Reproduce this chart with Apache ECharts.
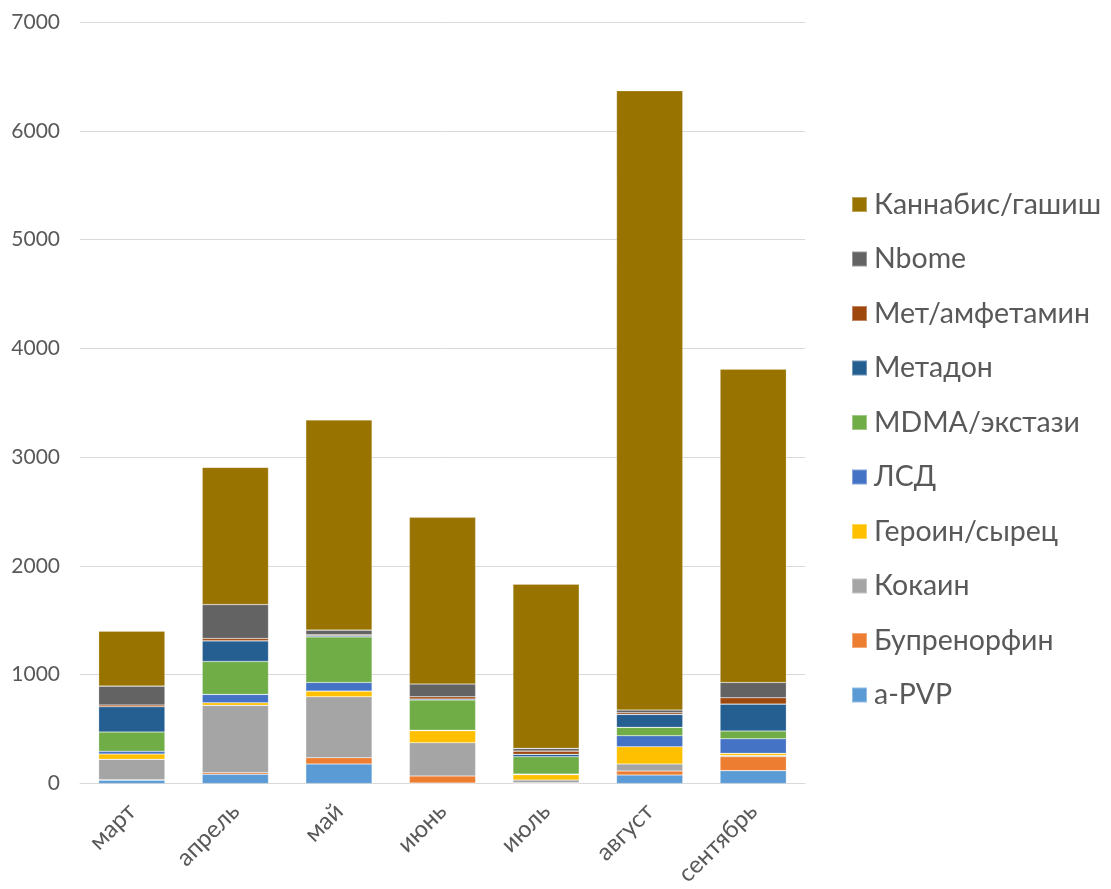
<!DOCTYPE html>
<html>
<head>
<meta charset="utf-8">
<script src="https://cdn.jsdelivr.net/npm/echarts@6/dist/echarts.min.js"></script>
<style>
html,body{margin:0;padding:0;background:#fff;}
#chart{width:1111px;height:889px;}
</style>
</head>
<body>
<div id="chart"></div>
<script>
const categories = ['март','апрель','май','июнь','июль','август','сентябрь'];
const yTicks = [0,1000,2000,3000,4000,5000,6000,7000];

const aPVP      = [30, 85, 179, 3, 3, 78, 118];
const buprenorf = [5, 14, 58, 66, 3, 37, 128];
const kokain    = [187, 619, 560, 306, 26, 64, 10];
const geroin    = [49, 24, 52, 110, 49, 159, 21];
const lsd       = [25, 77, 80, 5, 5, 101, 134];
const mdma      = [177, 303, 419, 277, 160, 77, 71];
const metadon   = [232, 189, 12, 10, 22, 119, 248];
const metamf    = [16, 22, 8, 20, 30, 15, 58];
const nbome     = [174, 312, 42, 117, 25, 25, 141];
const cannabis  = [505, 1261, 1931, 1533, 1509, 5693, 2880];

const seriesDefs = [
  ['a-PVP', aPVP, '#5B9BD5'],
  ['Бупренорфин', buprenorf, '#ED7D31'],
  ['Кокаин', kokain, '#A5A5A5'],
  ['Героин/сырец', geroin, '#FFC000'],
  ['ЛСД', lsd, '#4472C4'],
  ['MDMA/экстази', mdma, '#70AD47'],
  ['Метадон', metadon, '#255E91'],
  ['Мет/амфетамин', metamf, '#9E480E'],
  ['Nbome', nbome, '#636363'],
  ['Каннабис/гашиш', cannabis, '#997300']
];

const chart = echarts.init(document.getElementById('chart'));
const font = 'Lato';
chart.setOption({
  animation: false,
  backgroundColor: '#ffffff',
  grid: {left: 80, right: 306, top: 22, bottom: 105.5, containLabel: false},
  legend: {
    orient: 'vertical',
    left: 846,
    top: 185,
    icon: 'rect',
    itemWidth: 15,
    itemHeight: 15,
    itemGap: 25.5,
    data: seriesDefs.map(s => s[0]).reverse(),
    textStyle: {fontFamily: font, fontSize: 28.5, lineHeight: 28, color: '#595959', padding: [0,0,0,2]}
  },
  xAxis: {
    type: 'category',
    data: categories,
    axisLine: {lineStyle: {color: '#d9d9d9', width: 1}},
    axisTick: {show: false},
    axisLabel: {rotate: 45, fontFamily: font, fontSize: 24, color: '#595959', margin: 24, interval: 0}
  },
  yAxis: {
    type: 'value',
    min: yTicks[0],
    max: yTicks[yTicks.length-1],
    interval: 1000,
    axisLine: {show: false},
    axisTick: {show: false},
    splitLine: {lineStyle: {color: '#d9d9d9', width: 1}},
    axisLabel: {fontFamily: font, fontSize: 21, color: '#595959', margin: 20, formatter: v => String(v)}
  },
  series: seriesDefs.map(([name, data, color]) => ({
    name: name,
    type: 'bar',
    stack: 'total',
    data: data,
    barWidth: '64%',
    itemStyle: {color: color, borderColor: 'rgba(255,255,255,0.35)', borderWidth: 0.6}
  }))
});
</script>
</body>
</html>
